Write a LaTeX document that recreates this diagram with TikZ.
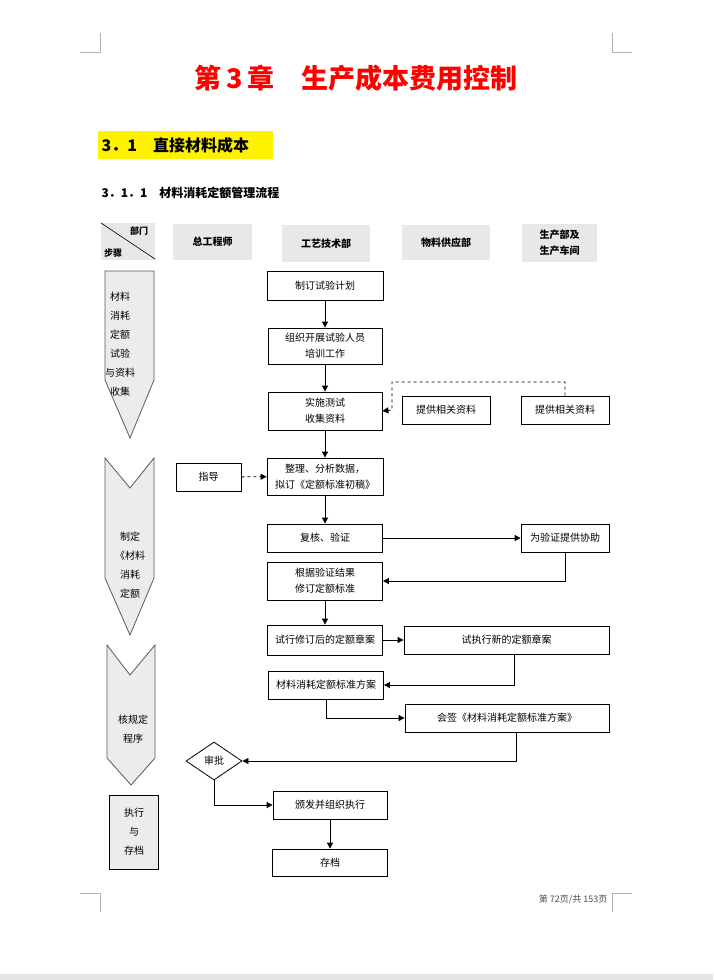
\documentclass[tikz,border=0pt]{standalone}
\usepackage{fontspec}
\setmainfont{Noto Sans CJK SC}
\usetikzlibrary{shapes.geometric,arrows.meta}
\begin{document}
\begin{tikzpicture}[x=1pt,y=-1pt,
  box/.style={draw,line width=0.8pt,inner sep=0pt,font=\fontsize{10}{16}\selectfont,align=center},
  hdr/.style={fill=gray!18,inner sep=0pt,font=\bfseries\fontsize{10}{16}\selectfont,align=center},
  stage/.style={draw=gray!70!black,fill=gray!15,line width=0.8pt},
  stxt/.style={font=\fontsize{10}{19}\selectfont,align=center},
  ar/.style={-{Triangle[length=6pt,width=6pt]},line width=0.8pt},
  dar/.style={ar,dashed},
  crop/.style={gray!60,line width=0.6pt}]
\useasboundingbox (0,0) rectangle (713,980);
\fill[gray!20] (0,974) rectangle (713,980);
% crop marks
\draw[crop] (100,33)--(100,52)--(80,52);
\draw[crop] (612,33)--(612,52)--(632,52);
\draw[crop] (100,912)--(100,893)--(80,893);
\draw[crop] (612,912)--(612,893)--(632,893);
\node (title) at (356,78) {\color{red}\bfseries\fontsize{27}{30}\selectfont 第\,3\,章\quad 生产成本费用控制};
\fill[yellow] (98,131) rectangle (273,159);
\node[anchor=west,font=\bfseries\fontsize{16}{18}\selectfont] (sec) at (98,145) {3．1\quad 直接材料成本};
\node[anchor=west,font=\bfseries\fontsize{12}{14}\selectfont] (sub) at (98,193) {3．1．1\quad 材料消耗定额管理流程};
% header
\fill[gray!18] (101,223) rectangle (155,260);
\draw[line width=0.6pt] (101,223)--(155,259);
\node[font=\bfseries\fontsize{9}{10}\selectfont] (bm) at (139,231) {部门};
\node[font=\bfseries\fontsize{9}{10}\selectfont] (bz) at (113,253) {步骤};
\node[hdr,minimum width=79pt,minimum height=36pt] (h1) at (212.5,242) {总工程师};
\node[hdr,minimum width=88pt,minimum height=37pt] (h2) at (326,243.5) {工艺技术部};
\node[hdr,minimum width=88pt,minimum height=35pt] (h3) at (446,242.5) {物料供应部};
\node[hdr,minimum width=75pt,minimum height=38pt] (h4) at (559.5,243) {生产部及\\生产车间};
% stages
\draw[stage] (105,271)--(154,271)--(154,380)--(130,438)--(105,380)--cycle;
\node[stxt] (s1) at (120,344) {材料\\消耗\\定额\\试验\\与资料\\收集};
\draw[stage] (105,458)--(130,488)--(154,458)--(154,578)--(130,635)--(105,578)--cycle;
\node[stxt] (s2) at (130,565) {制定\\《材料\\消耗\\定额};
\draw[stage] (107,645)--(130,675)--(155,645)--(155,758)--(131,785)--(107,758)--cycle;
\node[stxt] (s3) at (133,729) {核规定\\程序};
\draw[stage,draw=black] (109,795) rectangle (158,869);
\node[stxt] (s4) at (134,832) {执行\\与\\存档};
% process boxes
\node[box,minimum width=116pt,minimum height=29pt] (A) at (325,285.5) {制订试验计划};
\node[box,minimum width=114pt,minimum height=36pt] (B) at (325,346) {组织开展试验人员\\培训工作};
\node[box,minimum width=114pt,minimum height=38pt] (C) at (325,411) {实施测试\\收集资料};
\node[box,minimum width=88pt,minimum height=28pt] (D) at (446,410) {提供相关资料};
\node[box,minimum width=88pt,minimum height=28pt] (E) at (565,410) {提供相关资料};
\node[box,minimum width=65pt,minimum height=28pt] (F) at (208.5,477) {指导};
\node[box,minimum width=116pt,minimum height=37pt] (G) at (325,476.5) {整理、分析数据，\\拟订《定额标准初稿》};
\node[box,minimum width=115pt,minimum height=28pt] (H) at (325,538) {复核、验证};
\node[box,minimum width=88pt,minimum height=28pt] (I) at (565,538) {为验证提供协助};
\node[box,minimum width=115pt,minimum height=38pt] (J) at (325,581) {根据验证结果\\修订定额标准};
\node[box,minimum width=115pt,minimum height=30pt] (K) at (325,640) {试行修订后的定额章案};
\node[box,minimum width=205pt,minimum height=28pt] (L) at (506.5,640) {试执行新的定额章案};
\node[box,minimum width=115pt,minimum height=28pt] (M) at (326,685) {材料消耗定额标准方案};
\node[box,minimum width=204pt,minimum height=28pt] (N) at (507,718) {会签《材料消耗定额标准方案》};
\node[draw,line width=0.8pt,diamond,aspect=1.5,inner sep=0pt,minimum width=56pt,minimum height=38pt,font=\fontsize{10}{12}\selectfont] (O) at (214,761) {审批};
\node[box,minimum width=114pt,minimum height=28pt] (P) at (330,805) {颁发并组织执行};
\node[box,minimum width=115pt,minimum height=27pt] (Q) at (330,862.5) {存档};
% connectors
\draw[ar] (A) -- (B);
\draw[ar] (B) -- (C);
\draw[ar] (C) -- (G);
\draw[dar] (E.north) |- (392,382) -- (392,410) -- (C.east);
\draw[dar] (F) -- (G);
\draw[ar] (G) -- (H);
\draw[ar] (H) -- (I);
\draw[ar] (I.south) |- (J.east);
\draw[ar] (J) -- (K);
\draw[ar] (K) -- (L);
\draw[ar] (514,654) |- (M.east);
\draw[ar] (M.south) |- (N.west);
\draw[ar] (516,732) |- (O.east);
\draw[ar] (O.south) |- (P.west);
\draw[ar] (P) -- (Q);
\node[anchor=east,gray!60!black,font=\fontsize{9}{10}\selectfont] (foot) at (611,899) {第 72页/共 153页};
\end{tikzpicture}
\end{document}
